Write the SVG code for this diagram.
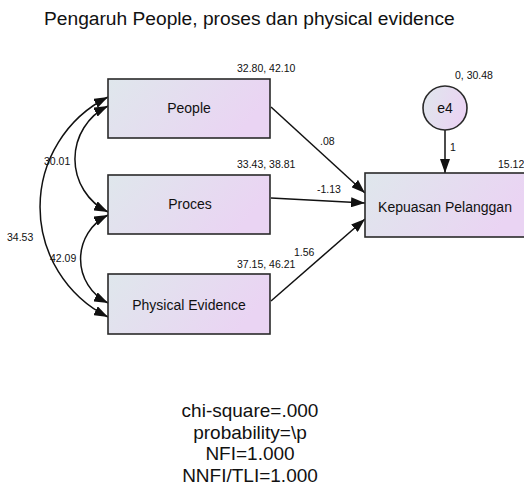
<svg xmlns="http://www.w3.org/2000/svg" width="524" height="487" viewBox="0 0 524 487">
<style>
  text { font-family: "Liberation Sans", Arial, sans-serif; fill: #111; }
  .title { font-size: 19.2px; }
  .lbl { font-size: 14px; text-anchor: middle; }
  .num { font-size: 10.5px; }
  .fit { font-size: 19px; text-anchor: middle; }
  .box { stroke: #2a2a2a; stroke-width: 1.6; fill: url(#g); }
  .con { fill: none; stroke: #111; stroke-width: 1.5; }
</style>
<defs>
  <linearGradient id="g" x1="0" y1="0" x2="1" y2="0.3">
    <stop offset="0" stop-color="#dfe7ec"/>
    <stop offset="1" stop-color="#ead4f3"/>
  </linearGradient>
  <marker id="ah" viewBox="0 0 14 10" refX="14" refY="5" markerWidth="14" markerHeight="10" markerUnits="userSpaceOnUse" orient="auto-start-reverse">
    <path d="M0,0 L14,5 L0,10 z" fill="#111"/>
  </marker>
</defs>
<text class="title" x="44" y="25">Pengaruh People, proses dan physical evidence</text>

<g id="connectors">
  <path class="con" d="M108,106 A59,59 0 0 0 108,212" marker-start="url(#ah)" marker-end="url(#ah)"/>
  <path class="con" d="M108,215 A49,49 0 0 0 108,303" marker-start="url(#ah)" marker-end="url(#ah)"/>
  <path class="con" d="M108,97 A123,123 0 0 0 108,317" marker-start="url(#ah)" marker-end="url(#ah)"/>
  <path class="con" d="M271,107 L365,193" marker-end="url(#ah)"/>
  <path class="con" d="M271,198 L365,203" marker-end="url(#ah)"/>
  <path class="con" d="M271,301 L365,219" marker-end="url(#ah)"/>
  <path class="con" d="M445,130 L445,173" marker-end="url(#ah)"/>
  <text class="num" x="44" y="165">30.01</text>
  <text class="num" x="50" y="262">42.09</text>
  <text class="num" x="7" y="241">34.53</text>
  <text class="num" x="320" y="145">.08</text>
  <text class="num" x="317" y="193">-1.13</text>
  <text class="num" x="294" y="256">1.56</text>
  <text class="num" x="450" y="151">1</text>
</g>

<g id="people">
  <rect class="box" x="108" y="79" width="162" height="59"/>
  <text class="lbl" x="189" y="113">People</text>
  <text class="num" x="237" y="72">32.80, 42.10</text>
</g>
<g id="proces">
  <rect class="box" x="108" y="175" width="162" height="59"/>
  <text class="lbl" x="190" y="209">Proces</text>
  <text class="num" x="237" y="168">33.43, 38.81</text>
</g>
<g id="physical">
  <rect class="box" x="108" y="274" width="162" height="60"/>
  <text class="lbl" x="189" y="310">Physical Evidence</text>
  <text class="num" x="237" y="268">37.15, 46.21</text>
</g>
<g id="kepuasan">
  <rect class="box" x="365" y="173" width="162" height="64"/>
  <text class="lbl" x="445" y="212">Kepuasan Pelanggan</text>
  <text class="num" x="498" y="168">15.12</text>
</g>
<g id="e4">
  <circle class="box" cx="445" cy="108" r="22"/>
  <text class="lbl" x="445" y="113">e4</text>
  <text class="num" x="455" y="79">0, 30.48</text>
</g>

<g id="fit">
  <text class="fit" x="250" y="417">chi-square=.000</text>
  <text class="fit" x="250" y="438.5">probability=\p</text>
  <text class="fit" x="250" y="460">NFI=1.000</text>
  <text class="fit" x="250" y="481.5">NNFI/TLI=1.000</text>
</g>
</svg>
